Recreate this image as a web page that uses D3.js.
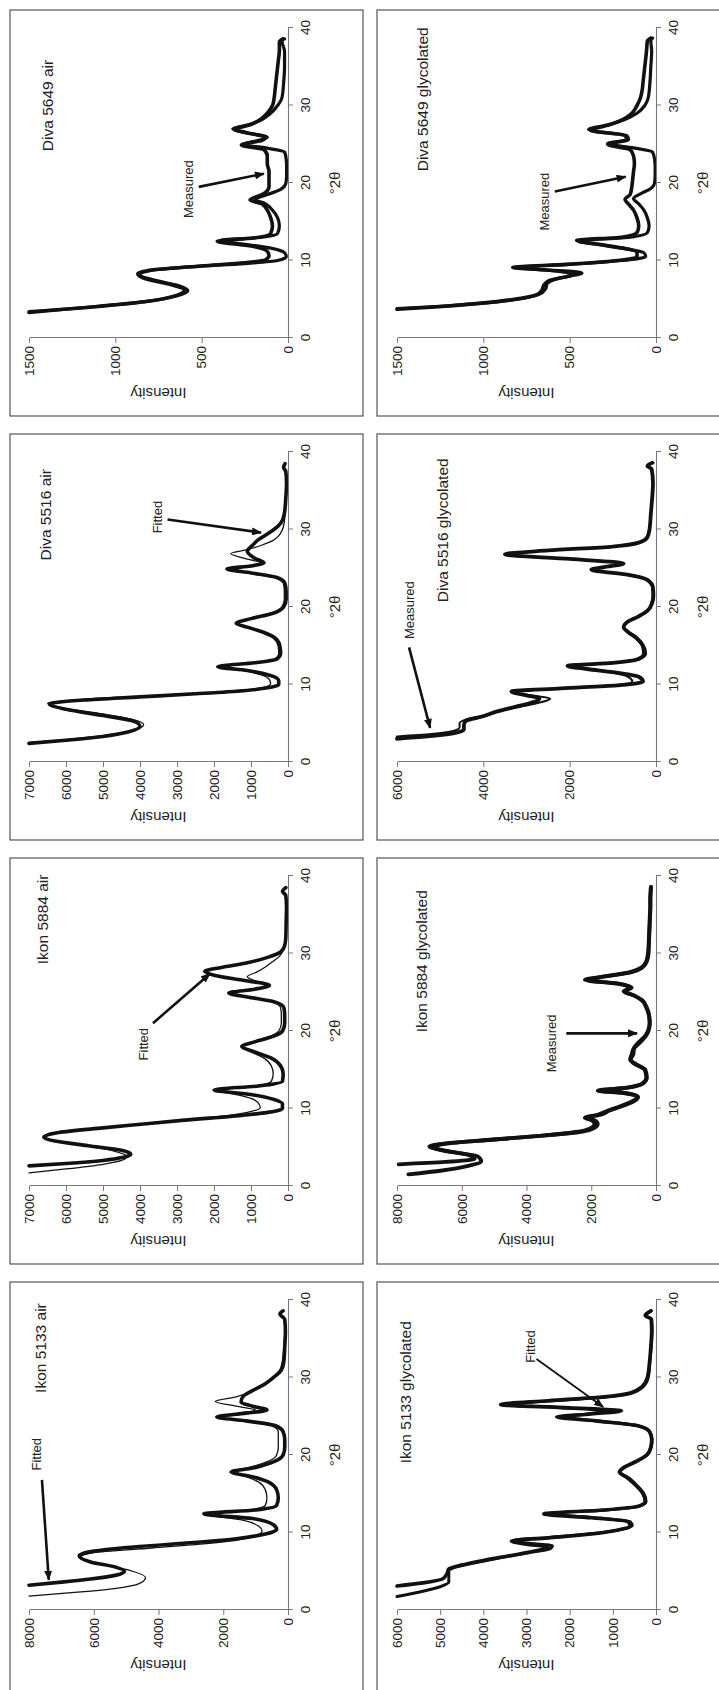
<!DOCTYPE html>
<html><head><meta charset="utf-8">
<script src="https://cdn.jsdelivr.net/npm/d3@7"></script>
<style>body{margin:0;background:#fff} text{font-family:"Liberation Sans",Arial,Helvetica,sans-serif}</style>
</head><body><svg id="c" width="719" height="1690"></svg>
<script>
// ---------- data ----------
const panelTitles = ["Ikon 5133 air","Ikon 5884 air","Diva 5516 air","Diva 5649 air",
  "Ikon 5133 glycolated","Ikon 5884 glycolated","Diva 5516 glycolated","Diva 5649 glycolated"];
const twoThetaTicks = [0,10,20,30,40];
const intensityTicks = [
  [0,2000,4000,6000,8000],
  [0,1000,2000,3000,4000,5000,6000,7000],
  [0,1000,2000,3000,4000,5000,6000,7000],
  [0,500,1000,1500],
  [0,1000,2000,3000,4000,5000,6000],
  [0,2000,4000,6000,8000],
  [0,2000,4000,6000],
  [0,500,1000,1500]
];
const annotationLabels = ["Fitted","Fitted","Fitted","Measured","Fitted","Measured","Measured","Measured"];

// [°2θ, intensity]
const ikon5133AirFitted = [[3.2,8000],[3.6,7000],[4.0,6100],[4.5,5300],[5.0,5050],[5.5,5300],[6.2,6100],[7.0,6450],[7.6,6000],[8.2,4600],[8.7,2900],[9.2,1600],[9.8,700],[10.4,350],[11.0,450],[11.8,1100],[12.4,2600],[12.9,1000],[13.5,350],[14.5,300],[15.5,350],[16.5,600],[17.2,1100],[17.8,1750],[18.4,1000],[19.2,400],[20,150],[21,100],[22,100],[23,150],[23.8,400],[24.4,1300],[24.9,2200],[25.4,1300],[25.8,650],[26.3,1100],[26.8,1450],[27.5,1400],[28.3,1100],[29.2,700],[30,450],[31,200],[32,130],[34,100],[36,80],[37.5,100],[38.2,250],[38.6,150]];
const ikon5133AirMeasured = [[1.8,8000],[2.3,6500],[2.8,5300],[3.4,4600],[4.2,4400],[5.0,4800],[6.0,5900],[6.8,6400],[7.4,6000],[8.0,4200],[8.5,2700],[9.0,1600],[9.6,1000],[10.2,800],[10.8,900],[11.6,1400],[12.4,2600],[12.9,1200],[13.5,700],[14.5,650],[15.5,700],[16.5,900],[17.2,1300],[17.8,1800],[18.4,1200],[19.2,600],[20,350],[21,300],[22,300],[23,300],[23.8,500],[24.4,1400],[24.9,2200],[25.4,1500],[25.8,1000],[26.3,1600],[26.9,2250],[27.5,1600],[28.3,1100],[29.2,700],[30,450],[31,250],[32,180],[34,130],[36,100],[37.5,120],[38.2,250],[38.6,150]];

const ikon5884AirFitted = [[2.6,7000],[2.9,6000],[3.3,5000],[3.7,4450],[4.1,4250],[4.6,4500],[5.2,5400],[5.8,6300],[6.3,6600],[6.9,6200],[7.5,5000],[8.0,3900],[8.5,2800],[9.0,1500],[9.5,550],[10.0,150],[10.6,150],[11.2,400],[11.8,1000],[12.4,2000],[12.9,800],[13.5,150],[14.5,130],[15.5,200],[16.5,450],[17.3,900],[18.0,1250],[18.6,900],[19.3,400],[20,150],[21,90],[22,90],[23,110],[23.8,400],[24.4,1100],[24.9,1600],[25.4,900],[25.9,500],[26.6,1300],[27.2,2000],[27.7,2250],[28.2,1800],[28.8,1100],[29.5,550],[30.2,200],[31,90],[32,60],[34,50],[36,40],[37.5,60],[38,150],[38.5,60]];
const ikon5884AirMeasured = [[1.7,7000],[2.2,6000],[2.8,5000],[3.3,4500],[3.8,4350],[4.5,4700],[5.2,5500],[5.8,6300],[6.3,6550],[6.9,6150],[7.5,5000],[8.0,3900],[8.5,2900],[9.0,1800],[9.5,1100],[10.1,750],[10.7,800],[11.3,1000],[11.8,1400],[12.4,2000],[12.9,900],[13.5,450],[14.5,400],[15.5,450],[16.5,650],[17.3,1000],[18.0,1250],[18.6,950],[19.3,500],[20,250],[21,180],[22,180],[23,200],[23.8,450],[24.4,1100],[24.9,1600],[25.4,950],[25.9,600],[26.5,900],[27,1100],[27.6,850],[28.3,600],[29,400],[29.7,220],[30.5,120],[31.5,80],[33,60],[35,50],[37.5,60],[38,150],[38.5,60]];

const diva5516AirFitted = [[2.4,7000],[2.8,6000],[3.3,5000],[3.9,4300],[4.6,4000],[5.3,4200],[6.0,5000],[6.8,6000],[7.5,6450],[8.0,5500],[8.4,4000],[8.8,2500],[9.2,1200],[9.6,500],[10.0,250],[10.5,250],[11.2,500],[11.8,1100],[12.3,1900],[12.8,900],[13.3,300],[14,200],[15,220],[16,350],[16.8,700],[17.4,1100],[17.9,1400],[18.5,1000],[19.2,400],[20,120],[21,50],[22,50],[23,80],[23.8,300],[24.4,1000],[24.9,1650],[25.3,1000],[25.7,650],[26.3,900],[27.2,1100],[28,950],[28.7,800],[29.3,600],[30,380],[30.8,200],[32,100],[34,60],[36,40],[37.5,60],[38,120],[38.5,80]];
const diva5516AirMeasured = [[2.5,7000],[2.9,6000],[3.4,5000],[4.0,4250],[4.8,3900],[5.5,4200],[6.2,5000],[6.9,6000],[7.6,6500],[8.1,5500],[8.5,4000],[8.9,2400],[9.3,1200],[9.7,600],[10.1,470],[10.6,500],[11.2,700],[11.8,1200],[12.3,1900],[12.8,900],[13.3,350],[14,250],[15,270],[16,400],[16.8,750],[17.4,1150],[17.9,1400],[18.5,1000],[19.2,450],[20,170],[21,100],[22,100],[23,120],[23.8,330],[24.4,1000],[24.9,1650],[25.3,1100],[25.7,750],[26.3,1200],[26.9,1550],[27.4,1100],[28,700],[28.6,400],[29.2,250],[30,150],[31,100],[32,80],[34,60],[36,40],[37.5,60],[38,120],[38.5,80]];

const diva5649AirFitted = [[3.4,1500],[3.7,1300],[4.1,1100],[4.7,830],[5.4,650],[6.1,580],[6.8,640],[7.5,780],[8.2,860],[8.7,800],[9.2,550],[9.6,250],[10.0,60],[10.5,10],[11.0,20],[11.6,100],[12.1,250],[12.6,390],[13.0,150],[13.5,60],[14.5,50],[15.5,60],[16.5,90],[17.3,130],[17.9,190],[18.5,120],[19.2,40],[20,12],[21,8],[22,8],[23,10],[24,20],[24.5,120],[25,260],[25.5,170],[25.9,120],[26.5,250],[27,320],[27.5,230],[28.2,150],[29,100],[30,60],[31,35],[33,25],[35,20],[37,20],[38.3,35],[38.6,20]];
const diva5649AirMeasured = [[3.3,1500],[3.7,1300],[4.1,1080],[4.7,820],[5.4,660],[6.2,600],[6.9,680],[7.6,820],[8.3,870],[8.8,780],[9.3,500],[9.7,250],[10.1,130],[10.6,110],[11.2,120],[11.8,200],[12.5,410],[12.9,200],[13.5,100],[14.5,90],[15.5,100],[16.5,120],[17.3,150],[17.8,220],[18.5,150],[19.5,110],[20.5,110],[21.5,110],[22.5,120],[23.5,120],[24.3,140],[24.9,270],[25.5,150],[25.9,130],[26.5,240],[26.9,310],[27.5,220],[28.2,160],[29,120],[30,90],[31,80],[32,75],[33,70],[34,65],[35,60],[36,55],[37,50],[38.2,50],[38.6,30]];

const ikon5133GlyFitted = [[3.1,6000],[3.5,5400],[4.0,4950],[4.6,4850],[5.3,4800],[5.8,4500],[6.4,4000],[7.0,3400],[7.6,2800],[8.1,2500],[8.5,3000],[8.9,3350],[9.3,2500],[9.8,1500],[10.3,900],[10.8,600],[11.4,650],[11.9,1500],[12.4,2600],[12.9,1200],[13.4,400],[14,250],[15,300],[16,450],[17,650],[17.8,850],[18.4,750],[19.2,450],[20,220],[21,120],[22,100],[23,150],[23.8,450],[24.4,1400],[24.9,2300],[25.3,1500],[25.7,800],[26.1,2000],[26.5,3600],[27.0,2500],[27.5,1200],[28.0,600],[28.8,330],[30,200],[32,150],[34,120],[36,100],[37.5,110],[38.0,250],[38.6,120]];
const ikon5133GlyMeasured = [[1.75,6000],[2.3,5500],[3.0,5000],[3.6,4800],[4.3,4800],[5.0,4800],[5.6,4600],[6.2,4100],[6.8,3550],[7.4,2950],[7.9,2450],[8.3,2400],[8.7,3100],[9.0,3300],[9.4,2400],[9.9,1400],[10.4,800],[10.9,550],[11.4,600],[11.9,1400],[12.4,2550],[12.9,1150],[13.4,380],[14,230],[15,280],[16,430],[17,620],[17.8,830],[18.4,720],[19.2,430],[20,200],[21,110],[22,90],[23,140],[23.8,430],[24.4,1350],[24.9,2100],[25.3,1600],[25.7,1100],[26.1,2200],[26.5,3500],[27.0,2400],[27.5,1100],[28.0,550],[28.8,300],[30,180],[32,140],[34,110],[36,90],[37.5,100],[38.0,240],[38.6,110]];

const ikon5884GlyFitted = [[2.8,7950],[3.1,6500],[3.5,5600],[4.0,5800],[4.6,6600],[5.1,7000],[5.5,6500],[6.0,5000],[6.5,3500],[7.0,2400],[7.5,2000],[8.0,1900],[8.5,2000],[8.8,2200],[9.2,1800],[9.7,1500],[10.3,1100],[10.9,750],[11.5,580],[12.0,1000],[12.3,1800],[12.7,900],[13.3,400],[14,300],[15,350],[15.7,600],[16.3,800],[17,750],[17.7,700],[18.5,550],[19.3,350],[20,250],[21,200],[22,220],[23,300],[24,450],[24.6,700],[25.1,1000],[25.6,800],[26.1,1200],[26.6,2200],[27.1,1500],[27.6,800],[28.2,450],[29,300],[30,250],[31,230],[32,220],[33,210],[34,200],[35,190],[36,180],[37,180],[38,170],[38.6,160]];
const ikon5884GlyMeasured = [[1.5,7650],[2.0,6600],[2.6,5800],[3.2,5400],[3.8,5500],[4.4,6300],[5.0,6900],[5.5,6400],[6.0,5000],[6.5,3500],[7.0,2300],[7.5,1900],[8.0,1800],[8.5,1900],[8.8,2150],[9.2,1700],[9.7,1450],[10.3,1050],[10.9,700],[11.5,550],[12.0,950],[12.3,1750],[12.7,850],[13.3,380],[14,280],[15,330],[15.7,650],[16.3,780],[17,700],[17.7,680],[18.5,500],[19.3,320],[20,230],[21,190],[22,210],[23,280],[24,430],[24.6,680],[25.1,950],[25.6,750],[26.1,1150],[26.6,2100],[27.1,1450],[27.6,750],[28.2,420],[29,280],[30,230],[31,220],[32,210],[33,200],[34,190],[35,180],[36,170],[37,170],[38,160],[38.6,150]];

const diva5516GlyFitted = [[3.0,6000],[3.3,5300],[3.7,4700],[4.2,4450],[4.8,4450],[5.3,4400],[5.9,4000],[6.5,3700],[7.2,3200],[7.8,2800],[8.2,2700],[8.6,3000],[9.1,3350],[9.5,2200],[9.9,900],[10.4,300],[11,400],[11.6,1000],[12.0,1600],[12.4,2050],[12.8,1000],[13.3,400],[14,250],[15,300],[16,450],[16.8,650],[17.4,750],[18,680],[18.8,400],[19.5,200],[20.5,90],[21.5,60],[22.5,70],[23.5,200],[24.2,700],[24.8,1500],[25.2,1150],[25.6,750],[26.2,2000],[26.8,3500],[27.3,2500],[27.8,1000],[28.3,400],[29,200],[30,150],[32,120],[34,90],[36,70],[37.8,100],[38.2,200],[38.6,80]];
const diva5516GlyMeasured = [[3.3,6000],[3.6,5200],[4.0,4700],[4.5,4550],[5.0,4550],[5.5,4400],[6.0,4000],[6.6,3600],[7.2,3100],[7.8,2600],[8.2,2450],[8.6,2900],[9.1,3300],[9.5,2200],[9.9,1000],[10.4,550],[11,650],[11.6,1100],[12.0,1600],[12.4,2000],[12.8,1000],[13.3,450],[14,300],[15,330],[16,480],[16.8,680],[17.4,760],[18,690],[18.8,420],[19.5,220],[20.5,110],[21.5,80],[22.5,90],[23.5,220],[24.2,720],[24.8,1500],[25.2,1200],[25.6,800],[26.2,2000],[26.8,3450],[27.3,2500],[27.8,1000],[28.3,420],[29,220],[30,160],[32,120],[34,90],[36,70],[37.8,100],[38.2,200],[38.6,80]];

const diva5649GlyFitted = [[3.8,1500],[4.1,1250],[4.5,1000],[5.0,800],[5.6,680],[6.3,640],[7.0,630],[7.6,580],[8.2,480],[8.7,600],[9.1,800],[9.5,500],[10.0,200],[10.5,60],[11.0,70],[11.6,200],[12.1,350],[12.5,450],[13.0,150],[13.6,50],[14.5,40],[15.5,50],[16.5,70],[17.3,100],[18,130],[18.6,90],[19.3,30],[20,8],[21,5],[22,5],[23,8],[24,20],[24.6,150],[25.1,280],[25.6,170],[26.1,180],[26.9,390],[27.5,280],[28.2,180],[29,110],[30,65],[31,45],[33,35],[35,30],[37,25],[38.3,30],[38.7,20]];
const diva5649GlyMeasured = [[3.7,1500],[4.0,1280],[4.5,1010],[5.0,820],[5.6,690],[6.2,660],[6.8,650],[7.4,620],[8.0,500],[8.4,430],[8.8,650],[9.1,830],[9.5,520],[10.0,220],[10.5,110],[11.0,110],[11.6,190],[12.1,330],[12.6,460],[13.0,200],[13.6,110],[14.5,100],[15.5,110],[16.5,130],[17.3,160],[17.9,180],[18.5,150],[19.5,140],[20.5,135],[21.5,130],[22.5,125],[23.5,130],[24.3,150],[25,280],[25.6,160],[26.1,170],[26.8,380],[27.5,270],[28.2,190],[29,140],[30,110],[31,90],[32,80],[33,75],[34,70],[35,65],[36,60],[37,55],[38.3,50],[38.7,30]];

// annotation anchors in data units [°2θ, intensity]
const titleAnchors = [[33.8,7634],[34.4,6622],[31.9,6565],[30.0,1395],[28.1,5792],[29.0,7231],[29.9,4953],[30.8,1353]];
const labelAnchors = [[20.1,7756],[18.3,3919],[31.6,3527],[19.2,575],[34.0,2908],[18.4,3231],[19.6,5721],[17.6,644]];
const arrowStarts = [[16.8,7600],[21.0,3650],[31.3,3256],[19.5,517],[32.4,2769],[19.7,2770],[14.8,5721],[18.9,586]];
const arrowEnds = [[3.9,7390],[27.4,2110],[29.6,733],[21.2,140],[26.2,1223],[19.7,585],[4.4,5233],[20.8,176]];

// ---------- drawing ----------
const fittedSeries = [ikon5133AirFitted, ikon5884AirFitted, diva5516AirFitted, diva5649AirFitted,
  ikon5133GlyFitted, ikon5884GlyFitted, diva5516GlyFitted, diva5649GlyFitted];
const measuredSeries = [ikon5133AirMeasured, ikon5884AirMeasured, diva5516AirMeasured, diva5649AirMeasured,
  ikon5133GlyMeasured, ikon5884GlyMeasured, diva5516GlyMeasured, diva5649GlyMeasured];
const widths = [[3.6,1.3],[3.6,1.3],[3.6,1.3],[3.2,3.6],[3.6,3.0],[3.8,3.8],[3.8,2.0],[3.2,3.6]];

const svg = d3.select('#c');
const defs = svg.append('defs');
defs.append('marker').attr('id','ah').attr('viewBox','0 0 10 8').attr('refX',9).attr('refY',4)
  .attr('markerWidth',10).attr('markerHeight',8).attr('markerUnits','userSpaceOnUse').attr('orient','auto')
  .append('path').attr('d','M0,0L10,4L0,8Z').attr('fill','#111');

const root = svg.append('g').attr('transform','translate(0,1690) rotate(-90)');
const colX0 = [80,504,928,1352];
const rowTop = [29,397];
const plotW = 310, plotH = 259;

panelTitles.forEach((title,i)=>{
  const col = i%4, row = Math.floor(i/4);
  const X0 = colX0[col], top = rowTop[row];
  const ticks = intensityTicks[i];
  const x = d3.scaleLinear().domain([0,40]).range([X0, X0+plotW]);
  const y = d3.scaleLinear().domain([0, ticks[ticks.length-1]]).range([top+plotH, top]);
  const g = root.append('g');
  const bx = col===0 ? X0-95 : X0-78;
  g.append('rect').attr('x',bx).attr('y',row===0?10:377).attr('width',X0+328-bx).attr('height',row===0?353:380)
    .attr('fill','none').attr('stroke','#555').attr('stroke-width',1.2);

  const line = d3.line().x(d=>x(d[0])).y(d=>y(d[1])).curve(d3.curveMonotoneX);
  const [wf, wm] = widths[i];
  const order = wf>=wm ? [[fittedSeries[i],wf],[measuredSeries[i],wm]] : [[measuredSeries[i],wm],[fittedSeries[i],wf]];
  order.forEach(([s,w])=>{
    g.append('path').attr('d',line(s)).attr('fill','none').attr('stroke','#111')
      .attr('stroke-width',w).attr('stroke-linejoin','round').attr('stroke-linecap','round');
  });

  const ax = g.append('g').attr('transform',`translate(0,${top+plotH})`)
    .call(d3.axisBottom(x).tickValues(twoThetaTicks).tickSize(5).tickPadding(7).tickSizeOuter(0));
  const ay = g.append('g').attr('transform',`translate(${X0},0)`)
    .call(d3.axisLeft(y).tickValues(ticks).tickFormat(d3.format('d')).tickSize(5).tickPadding(3).tickSizeOuter(0));
  [ax,ay].forEach(a=>{
    a.select('.domain').attr('stroke','#777').attr('stroke-width',1.1);
    a.selectAll('.tick line').attr('stroke','#777');
    a.selectAll('.tick text').attr('fill','#222').style('font-size','13.5px');
  });

  g.append('text').attr('x',X0+plotW/2).attr('y',top+plotH+52).attr('text-anchor','middle')
    .style('font-size','15px').attr('fill','#222').text('°2θ');
  g.append('text').attr('transform',`translate(${X0-55},${top+plotH/2}) rotate(-90)`).attr('dy','0.35em')
    .attr('text-anchor','middle').style('font-size','15px').attr('fill','#222').text('Intensity');

  g.append('text').attr('x',x(titleAnchors[i][0])).attr('y',y(titleAnchors[i][1])).attr('dy','0.35em')
    .attr('text-anchor','middle').style('font-size','15.5px').attr('fill','#222').text(title);
  g.append('text').attr('x',x(labelAnchors[i][0])).attr('y',y(labelAnchors[i][1])).attr('dy','0.35em')
    .attr('text-anchor','middle').style('font-size','13px').attr('fill','#222').text(annotationLabels[i]);
  g.append('line').attr('x1',x(arrowStarts[i][0])).attr('y1',y(arrowStarts[i][1]))
    .attr('x2',x(arrowEnds[i][0])).attr('y2',y(arrowEnds[i][1]))
    .attr('stroke','#111').attr('stroke-width', i===4?1.8:2.6).attr('marker-end','url(#ah)');
});
</script></body></html>
